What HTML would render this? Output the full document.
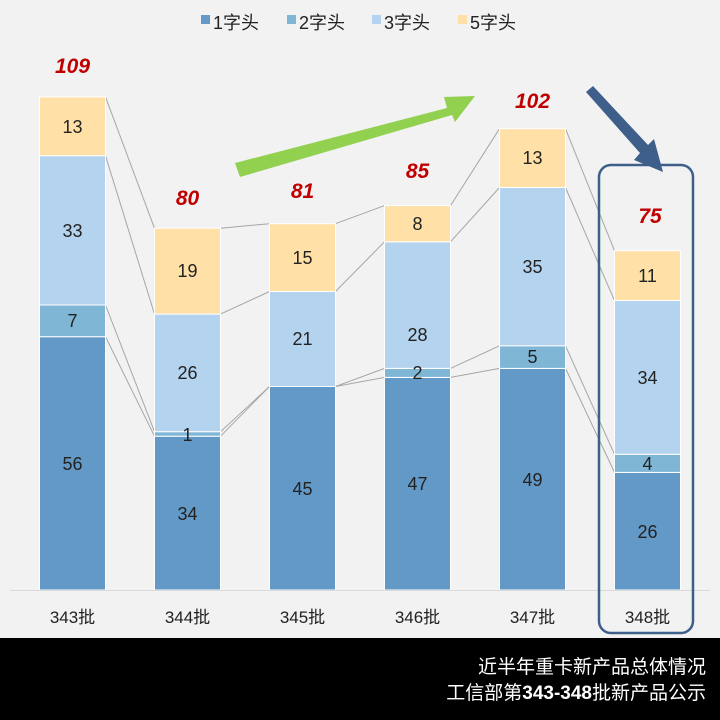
<!DOCTYPE html><html><head><meta charset="utf-8"><style>body{margin:0;background:#f2f2f2}svg{display:block}text{font-family:"Liberation Sans","Noto Sans CJK SC",sans-serif}</style></head><body>
<svg width="720" height="720" viewBox="0 0 720 720">
<rect width="720" height="720" fill="#f2f2f2"/>
<g font-size="18" fill="#222">
<rect x="201" y="15" width="9" height="9" fill="#6399c6"/><text x="213" y="29">1字头</text>
<rect x="287" y="15" width="9" height="9" fill="#7fb6d6"/><text x="299" y="29">2字头</text>
<rect x="372" y="15" width="9" height="9" fill="#b4d3ee"/><text x="384" y="29">3字头</text>
<rect x="458" y="15" width="9" height="9" fill="#ffe0a6"/><text x="470" y="29">5字头</text>
</g>
<g stroke="#a6a6a6" stroke-width="1">
<line x1="105.5" y1="336.7" x2="154.5" y2="436.2"/><line x1="105.5" y1="305" x2="154.5" y2="431.7"/><line x1="105.5" y1="155.7" x2="154.5" y2="314.1"/><line x1="105.5" y1="96.9" x2="154.5" y2="228.2"/>
<line x1="220.5" y1="436.2" x2="269.5" y2="386.5"/><line x1="220.5" y1="431.7" x2="269.5" y2="386.5"/><line x1="220.5" y1="314.1" x2="269.5" y2="291.5"/><line x1="220.5" y1="228.2" x2="269.5" y2="223.7"/>
<line x1="335.5" y1="386.5" x2="384.5" y2="377.4"/><line x1="335.5" y1="386.5" x2="384.5" y2="368.4"/><line x1="335.5" y1="291.5" x2="384.5" y2="241.8"/><line x1="335.5" y1="223.7" x2="384.5" y2="205.6"/>
<line x1="450.5" y1="377.4" x2="499.5" y2="368.4"/><line x1="450.5" y1="368.4" x2="499.5" y2="345.8"/><line x1="450.5" y1="241.8" x2="499.5" y2="187.5"/><line x1="450.5" y1="205.6" x2="499.5" y2="128.7"/>
<line x1="565.5" y1="368.4" x2="614.5" y2="472.4"/><line x1="565.5" y1="345.8" x2="614.5" y2="454.3"/><line x1="565.5" y1="187.5" x2="614.5" y2="300.5"/><line x1="565.5" y1="128.7" x2="614.5" y2="250.7"/>
</g>
<g stroke="#fff" stroke-width="1">
<rect x="39.5" y="336.7" width="66" height="253.3" fill="#6399c6"/><rect x="39.5" y="305" width="66" height="31.7" fill="#7fb6d6"/><rect x="39.5" y="155.7" width="66" height="149.3" fill="#b4d3ee"/><rect x="39.5" y="96.9" width="66" height="58.8" fill="#ffe0a6"/>
<rect x="154.5" y="436.2" width="66" height="153.8" fill="#6399c6"/><rect x="154.5" y="431.7" width="66" height="4.5" fill="#7fb6d6"/><rect x="154.5" y="314.1" width="66" height="117.6" fill="#b4d3ee"/><rect x="154.5" y="228.2" width="66" height="85.9" fill="#ffe0a6"/>
<rect x="269.5" y="386.5" width="66" height="203.5" fill="#6399c6"/><rect x="269.5" y="291.5" width="66" height="95" fill="#b4d3ee"/><rect x="269.5" y="223.7" width="66" height="67.8" fill="#ffe0a6"/>
<rect x="384.5" y="377.4" width="66" height="212.6" fill="#6399c6"/><rect x="384.5" y="368.4" width="66" height="9" fill="#7fb6d6"/><rect x="384.5" y="241.8" width="66" height="126.6" fill="#b4d3ee"/><rect x="384.5" y="205.6" width="66" height="36.2" fill="#ffe0a6"/>
<rect x="499.5" y="368.4" width="66" height="221.6" fill="#6399c6"/><rect x="499.5" y="345.8" width="66" height="22.6" fill="#7fb6d6"/><rect x="499.5" y="187.5" width="66" height="158.3" fill="#b4d3ee"/><rect x="499.5" y="128.7" width="66" height="58.8" fill="#ffe0a6"/>
<rect x="614.5" y="472.4" width="66" height="117.6" fill="#6399c6"/><rect x="614.5" y="454.3" width="66" height="18.1" fill="#7fb6d6"/><rect x="614.5" y="300.5" width="66" height="153.8" fill="#b4d3ee"/><rect x="614.5" y="250.7" width="66" height="49.8" fill="#ffe0a6"/>
</g>
<line x1="10" y1="590.5" x2="710" y2="590.5" stroke="#d9d9d9"/>
<g font-size="18" fill="#222" text-anchor="middle">
<text x="72.5" y="470">56</text><text x="72.5" y="327">7</text><text x="72.5" y="237">33</text><text x="72.5" y="133">13</text>
<text x="187.5" y="520">34</text><text x="187.5" y="441">1</text><text x="187.5" y="379">26</text><text x="187.5" y="277">19</text>
<text x="302.5" y="495">45</text><text x="302.5" y="345">21</text><text x="302.5" y="264">15</text>
<text x="417.5" y="490">47</text><text x="417.5" y="379">2</text><text x="417.5" y="341">28</text><text x="417.5" y="230">8</text>
<text x="532.5" y="486">49</text><text x="532.5" y="363">5</text><text x="532.5" y="273">35</text><text x="532.5" y="164">13</text>
<text x="647.5" y="538">26</text><text x="647.5" y="470">4</text><text x="647.5" y="384">34</text><text x="647.5" y="282">11</text>
</g>
<g font-size="21" font-weight="bold" font-style="italic" fill="#c00000" text-anchor="middle">
<text x="72.5" y="73">109</text><text x="187.5" y="205">80</text><text x="302.5" y="198">81</text><text x="417.5" y="178">85</text><text x="532.5" y="108">102</text><text x="650" y="223">75</text>
</g>
<g font-size="17" fill="#222" text-anchor="middle">
<text x="72.5" y="623">343批</text><text x="187.5" y="623">344批</text><text x="302.5" y="623">345批</text><text x="417.5" y="623">346批</text><text x="532.5" y="623">347批</text><text x="647.5" y="623">348批</text>
</g>
<polygon points="235,163 447,108 444,97 475,96 455,122 452,115 240,177" fill="#92d050"/>
<polygon points="586,92 593,86 648,145 654,139 663,172 634,160 640,153" fill="#3d5f8a"/>
<rect x="599" y="165" width="94" height="468" rx="12" fill="none" stroke="#3d5f8a" stroke-width="2.5"/>
<rect x="0" y="638" width="720" height="82" fill="#000"/>
<g font-size="19" fill="#fff" text-anchor="end">
<text x="706" y="673">近半年重卡新产品总体情况</text>
<text x="706" y="699">工信部第<tspan font-weight="bold">343-348</tspan>批新产品公示</text>
</g>
</svg></body></html>
